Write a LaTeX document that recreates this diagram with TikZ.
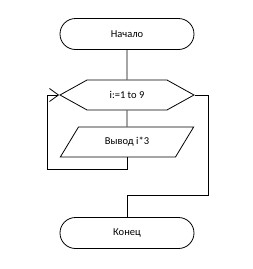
\documentclass[tikz,border=0pt]{standalone}
\usepackage{fontspec}
\setmainfont{Carlito}
\usetikzlibrary{arrows.meta,positioning,shapes.geometric,shapes.misc,shapes.symbols}

\begin{document}
\begin{tikzpicture}[x=1pt,y=-1pt,font=\fontsize{10.5}{12}\selectfont,line width=0.8pt,
  terminal/.style={draw,rounded rectangle,minimum width=134pt,minimum height=31pt,inner sep=0pt},
  loophex/.style={draw,signal,signal to=east and west,signal pointer angle=58,
                  minimum width=134pt,minimum height=30pt,inner sep=0pt},
  iobox/.style={draw,trapezium,trapezium left angle=48,trapezium right angle=132,
                trapezium stretches,minimum width=134pt,minimum height=30pt,inner sep=0pt}]
  \useasboundingbox (0,0) rectangle (253,269);
  \node[terminal] (start) at (127,34) {Начало};
  \node[loophex] (loop) at (127,95) {i:=1 to 9};
  \node[iobox] (out) at (127,142) {Вывод i*3};
  \node[terminal] (stop) at (127,233) {Конец};
  \coordinate (back) at (47,169);
  \coordinate (exitR) at (208,195);
  \draw (start) -- (loop);
  \draw (loop) -- (out);
  \draw[-{Straight Barb[length=9pt,width=13pt]}] (out.south) |- (back) |- (loop.west);
  \draw (loop.east) -| (exitR) -| (stop.north);
\end{tikzpicture}
\end{document}
